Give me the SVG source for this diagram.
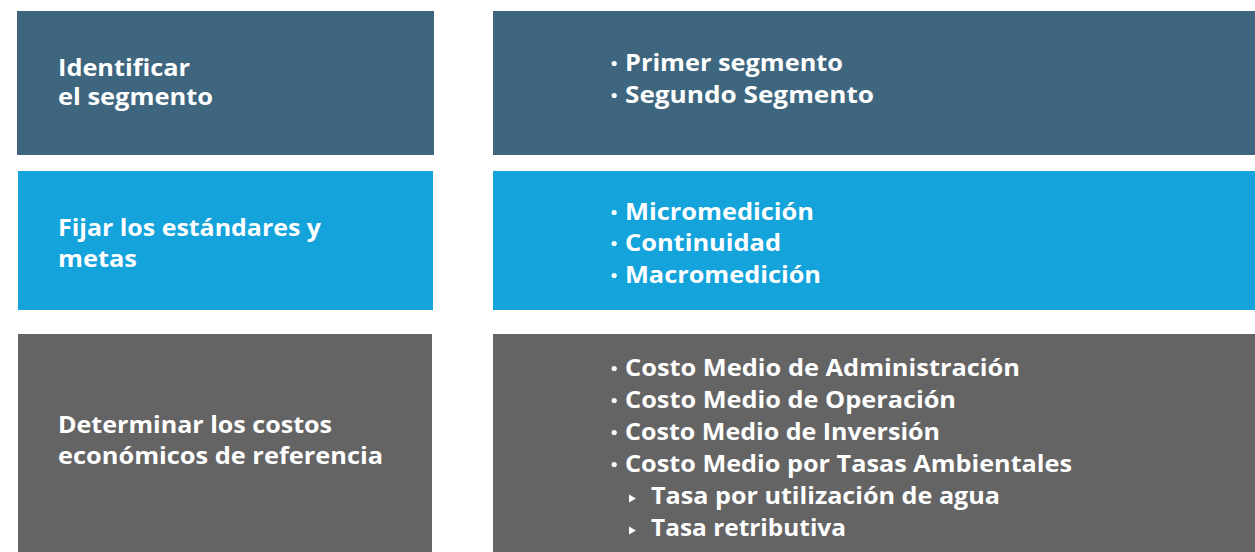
<svg xmlns="http://www.w3.org/2000/svg" width="1255" height="552" viewBox="0 0 1255 552">
<style>
  .dark{fill:#3e667e}
  .blue{fill:#14a3db}
  .gray{fill:#646464}
  text{fill:#ffffff;font-family:"Open Sans","Liberation Sans",sans-serif;font-weight:700;font-size:23.5px}
  .tri,.dot{fill:#ffffff}
</style>
<rect width="1255" height="552" fill="#ffffff"/>
<g id="node-identificar">
  <rect class="dark" x="17" y="11" width="417" height="144"/>
  <text x="58" y="76" textLength="132" lengthAdjust="spacingAndGlyphs">Identificar</text>
  <text x="58" y="105" textLength="155" lengthAdjust="spacingAndGlyphs">el segmento</text>
</g>
<g id="node-segmentos">
  <rect class="dark" x="493" y="11" width="762" height="144"/>
  <circle class="dot" cx="614.2" cy="63.5" r="2.6"/>
  <text x="625" y="71" textLength="218" lengthAdjust="spacingAndGlyphs">Primer segmento</text>
  <circle class="dot" cx="614.2" cy="95.5" r="2.6"/>
  <text x="625" y="103" textLength="249" lengthAdjust="spacingAndGlyphs">Segundo Segmento</text>
</g>
<g id="node-fijar">
  <rect class="blue" x="18" y="171" width="415" height="139"/>
  <text x="58" y="236" textLength="263" lengthAdjust="spacingAndGlyphs">Fijar los estándares y</text>
  <text x="58" y="267" textLength="79" lengthAdjust="spacingAndGlyphs">metas</text>
</g>
<g id="node-estandares">
  <rect class="blue" x="493" y="171" width="762" height="139"/>
  <circle class="dot" cx="614.2" cy="212.5" r="2.6"/>
  <text x="625" y="220" textLength="189" lengthAdjust="spacingAndGlyphs">Micromedición</text>
  <circle class="dot" cx="614.2" cy="243.5" r="2.6"/>
  <text x="625" y="251" textLength="156" lengthAdjust="spacingAndGlyphs">Continuidad</text>
  <circle class="dot" cx="614.2" cy="275.5" r="2.6"/>
  <text x="625" y="283" textLength="196" lengthAdjust="spacingAndGlyphs">Macromedición</text>
</g>
<g id="node-determinar">
  <rect class="gray" x="18" y="334" width="414" height="218"/>
  <text x="58" y="433" textLength="274" lengthAdjust="spacingAndGlyphs">Determinar los costos</text>
  <text x="58" y="464" textLength="325" lengthAdjust="spacingAndGlyphs">económicos de referencia</text>
</g>
<g id="node-costos">
  <rect class="gray" x="493" y="334" width="762" height="218"/>
  <circle class="dot" cx="614.2" cy="368.5" r="2.6"/>
  <text x="625" y="376" textLength="395" lengthAdjust="spacingAndGlyphs">Costo Medio de Administración</text>
  <circle class="dot" cx="614.2" cy="400.5" r="2.6"/>
  <text x="625" y="408" textLength="331" lengthAdjust="spacingAndGlyphs">Costo Medio de Operación</text>
  <circle class="dot" cx="614.2" cy="432.5" r="2.6"/>
  <text x="625" y="440" textLength="315" lengthAdjust="spacingAndGlyphs">Costo Medio de Inversión</text>
  <circle class="dot" cx="614.2" cy="464.5" r="2.6"/>
  <text x="625" y="472" textLength="447" lengthAdjust="spacingAndGlyphs">Costo Medio por Tasas Ambientales</text>
  <polygon class="tri" points="629,494.5 636,498.5 629,502.5"/>
  <text x="651" y="504" textLength="349" lengthAdjust="spacingAndGlyphs">Tasa por utilización de agua</text>
  <polygon class="tri" points="629,526.5 636,530.5 629,534.5"/>
  <text x="651" y="536" textLength="195" lengthAdjust="spacingAndGlyphs">Tasa retributiva</text>
</g>
<g id="connectors"></g>
</svg>
